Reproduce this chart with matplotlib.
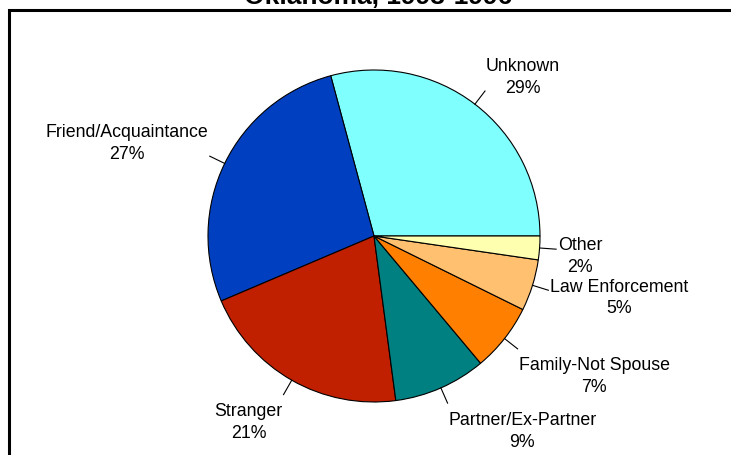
import matplotlib.pyplot as plt
import matplotlib.patches as mpatches
import numpy as np

plt.rcParams['font.family'] = ['Liberation Sans', 'DejaVu Sans']

# slices in drawing order (counter-clockwise from 3 o'clock)
categories = ['Unknown', 'Friend/Acquaintance', 'Stranger', 'Partner/Ex-Partner',
              'Family-Not Spouse', 'Law Enforcement', 'Other']
shares = [29.2, 27.2, 20.7, 9.0, 6.6, 5.0, 2.3]
colors = ['#80FFFF', '#0040C0', '#C02000', '#008080', '#FF8000', '#FFC070', '#FFFFB0']
title = 'Oklahoma, 1993-1996'

W, H = 731, 456
fig = plt.figure(figsize=(W / 100, H / 100), dpi=100)

# outer frame, cut by the right and bottom edges like the original
frame = mpatches.Rectangle((9 / W, -0.1), 1.2, 1.1 - 11 / H, transform=fig.transFigure,
                           fill=False, edgecolor='black', linewidth=2.2)
fig.patches.append(frame)

# title sits mostly above the picture
fig.text(378 / W, 1 - 4 / H, title, ha='center', va='baseline',
         fontsize=19, fontweight='bold')

# pie: centre (374, 237) px, radius 166 px
r_px = 166
cx, cy = 374, 237
side = 3 * r_px
ax = fig.add_axes([(cx - side / 2) / W, (H - cy - side / 2) / H, side / W, side / H])

wedges, _ = ax.pie(shares, colors=colors, startangle=0, counterclock=True, radius=1,
                   wedgeprops=dict(edgecolor='black', linewidth=0.8))
ax.set_xlim(-1.5, 1.5)
ax.set_ylim(-1.5, 1.5)
ax.axis('off')

total = sum(shares)
for w, name, v in zip(wedges, categories, shares):
    ang = np.deg2rad((w.theta1 + w.theta2) / 2)
    c, s = np.cos(ang), np.sin(ang)
    ax.plot([1.0 * c, 1.1 * c], [1.0 * s, 1.1 * s], color='black', lw=0.8, clip_on=False)
    ha = 'left' if c > 0 else 'right'
    if s > 0.35:
        va = 'bottom'
    elif s < -0.35:
        va = 'top'
    else:
        va = 'center'
    ax.annotate(f'{name}\n{round(v / total * 100):.0f}%', (1.11 * c, 1.11 * s),
                xytext=(0, -4.5), textcoords='offset points',
                ha=ha, va=va, multialignment='center', fontsize=12.8,
                linespacing=1.38, annotation_clip=False)

fig.savefig('out.png', dpi=100)
